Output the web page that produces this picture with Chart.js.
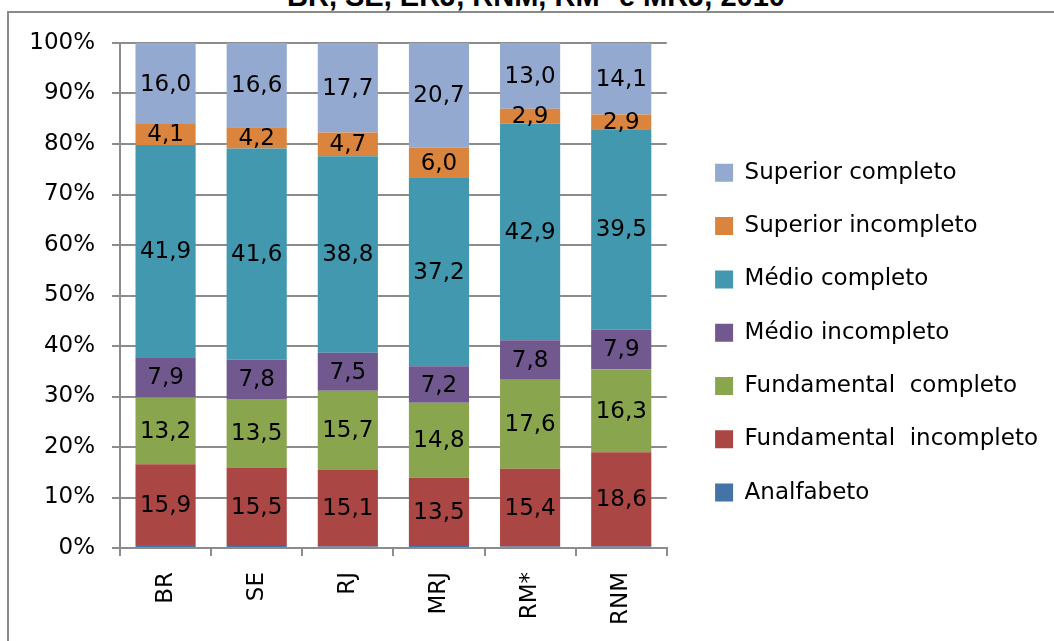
<!DOCTYPE html>
<html lang="pt">
<head>
<meta charset="UTF-8">
<title>Escolaridade - BR, SE, ERJ, RNM, RM* e MRJ, 2010</title>
<script src="https://cdn.jsdelivr.net/npm/chart.js@4.4.0/dist/chart.umd.min.js"></script>
<style>
  body { margin: 0; background: #ffffff; overflow: hidden; }
  #wrap { position: relative; width: 1054px; height: 641px; overflow: hidden; }
  #titulo {
    position: absolute; left: 0; top: -18px; width: 1072px;
    text-align: center; color: #000;
    font: bold 29px/28px 'Liberation Sans', Arial, sans-serif;
    white-space: nowrap;
  }
  #moldura {
    position: absolute; left: 7px; top: 11px; width: 1100px; height: 700px;
    border-left: 2px solid #8a8a8a; border-top: 2px solid #8a8a8a;
  }
  canvas { position: absolute; left: 0; top: 0; }
</style>
</head>
<body>
<div id="wrap">
  <div id="titulo">BR, SE, ERJ, RNM, RM* e MRJ, 2010</div>
  <div id="moldura"></div>
  <canvas id="grafico" width="1054" height="641"></canvas>
</div>

<script>
  // dados (%)
  const categorias = ['BR', 'SE', 'RJ', 'MRJ', 'RM*', 'RNM'];
  const analfabeto = [0.6, 0.4, 0.3, 0.4, 0.3, 0.3];
  const fundIncompleto = [15.9, 15.5, 15.1, 13.5, 15.4, 18.6];
  const fundCompleto = [13.2, 13.5, 15.7, 14.8, 17.6, 16.3];
  const medioIncompleto = [7.9, 7.8, 7.5, 7.2, 7.8, 7.9];
  const medioCompleto = [41.9, 41.6, 38.8, 37.2, 42.9, 39.5];
  const supIncompleto = [4.1, 4.2, 4.7, 6.0, 2.9, 2.9];
  const supCompleto = [16.0, 16.6, 17.7, 20.7, 13.0, 14.1];
  const ticksY = [0, 10, 20, 30, 40, 50, 60, 70, 80, 90, 100];

  const series = [
    { nome: 'Analfabeto', valores: analfabeto, cor: '#4572A7', semRotulo: true },
    { nome: 'Fundamental  incompleto', valores: fundIncompleto, cor: '#AA4643' },
    { nome: 'Fundamental  completo', valores: fundCompleto, cor: '#89A54E' },
    { nome: 'Médio incompleto', valores: medioIncompleto, cor: '#71588F' },
    { nome: 'Médio completo', valores: medioCompleto, cor: '#4198AF' },
    { nome: 'Superior incompleto', valores: supIncompleto, cor: '#DB843D' },
    { nome: 'Superior completo', valores: supCompleto, cor: '#93A9CF' }
  ];

  // barras 100% empilhadas: cada coluna é normalizada pelo total
  const totais = categorias.map((c, j) => series.reduce((s, d) => s + d.valores[j], 0));

  const fonte = 'DejaVu Sans';
  const cinza = '#8c8c8c';

  // rótulos dentro das barras
  const rotulos = {
    id: 'rotulos',
    afterDatasetsDraw(chart) {
      const ctx = chart.ctx;
      ctx.save();
      ctx.font = '23px "' + fonte + '"';
      ctx.fillStyle = '#000';
      ctx.textAlign = 'center';
      ctx.textBaseline = 'middle';
      chart.data.datasets.forEach((ds, i) => {
        if (ds.semRotulo) return;
        chart.getDatasetMeta(i).data.forEach((bar, j) => {
          const p = bar.getProps(['x', 'y', 'base'], true);
          ctx.fillText(ds.valores[j].toFixed(1).replace('.', ','), p.x, (p.y + p.base) / 2 + 1);
        });
      });
      ctx.restore();
    }
  };

  new Chart(document.getElementById('grafico'), {
    type: 'bar',
    data: {
      labels: categorias,
      datasets: series.map(s => ({
        label: s.nome,
        valores: s.valores,
        semRotulo: !!s.semRotulo,
        data: s.valores.map((v, j) => v / totais[j] * 100),
        backgroundColor: s.cor,
        borderWidth: 0,
        barPercentage: 0.66,
        categoryPercentage: 1
      }))
    },
    options: {
      responsive: false,
      animation: false,
      layout: { padding: { top: 43, left: 0, right: 6, bottom: 0 } },
      plugins: {
        title: { display: false },
        tooltip: { enabled: false },
        legend: {
          position: 'right',
          align: 'start',
          reverse: true,
          maxWidth: 420,
          // título vazio usado só como espaço acima das entradas
          title: { display: true, text: ' ', font: { size: 10 }, padding: { top: 0, bottom: 76 } },
          labels: {
            boxWidth: 18,
            boxHeight: 18,
            padding: 30.3,
            color: '#000',
            font: { family: fonte, size: 23 }
          }
        }
      },
      scales: {
        x: {
          stacked: true,
          offset: true,
          grid: { display: true, drawOnChartArea: false, drawTicks: true, tickLength: 8, color: cinza, lineWidth: 2, offset: true },
          border: { color: cinza, width: 2 },
          ticks: { color: '#000', font: { family: fonte, size: 23 }, minRotation: 90, maxRotation: 90, padding: 16 },
          afterFit(s) { s.height = 93; }
        },
        y: {
          stacked: true,
          min: 0,
          max: 100,
          grid: { color: cinza, lineWidth: 2, tickLength: 8 },
          border: { color: cinza, width: 2 },
          afterBuildTicks(s) { s.ticks = ticksY.map(v => ({ value: v })); },
          ticks: { color: '#000', font: { family: fonte, size: 23 }, padding: 17, callback: v => v + '%' },
          afterFit(s) { s.width = 120; }
        },
        espaco: {
          position: 'right',
          display: true,
          grid: { display: false },
          border: { display: false },
          ticks: { display: false },
          afterFit(s) { s.width = 18; }
        }
      }
    },
    plugins: [rotulos]
  });
</script>
</body>
</html>
